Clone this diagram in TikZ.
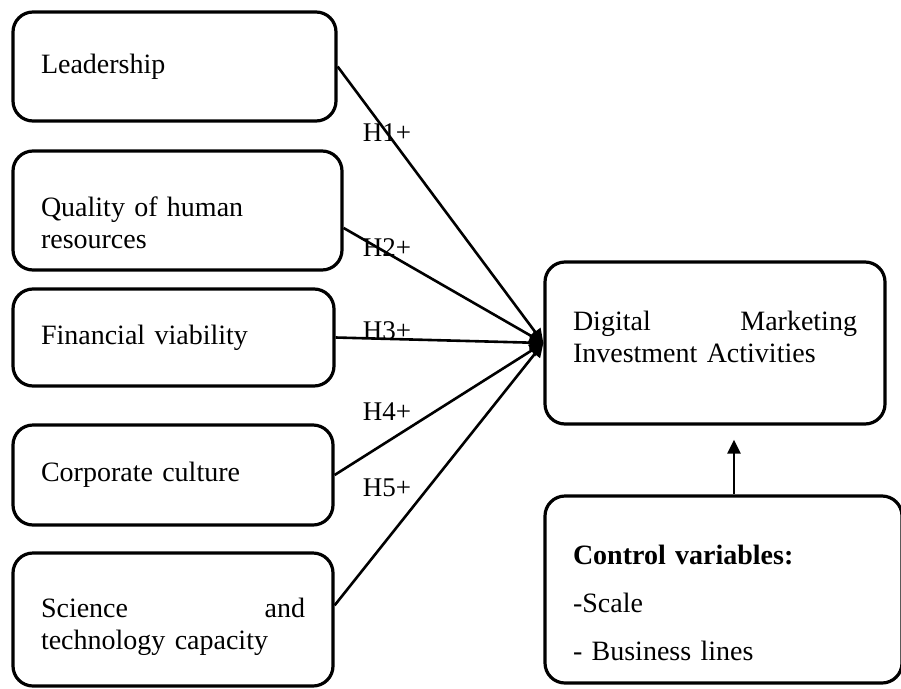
\documentclass[tikz,border=0pt]{standalone}
\usepackage{fontspec}
\setmainfont{Liberation Serif}
\usepackage{tikz}
\usetikzlibrary{calc,arrows.meta,positioning}
\tikzset{
  ar/.style={-{Triangle[length=14pt,width=13pt]},line width=2.6pt},
  box/.style={draw,line width=3.2pt,rounded corners=20pt,align=left,inner xsep=28pt,inner ysep=0pt,font=\fontsize{28}{32}\selectfont},
  hyp/.style={font=\fontsize{27}{32}\selectfont,inner sep=0pt}
}
\begin{document}
\begin{tikzpicture}[x=1pt,y=-1pt]
\useasboundingbox (0,0) rectangle (901,688);
% factors
\node[box,text width=267pt,minimum height=109pt] (lead) at (174.5,66.5) {Leadership};
\node[box,text width=273pt,minimum height=119pt,text depth=8pt] (qual) at (177.5,210.5) {Quality of human\\resources};
\node[box,text width=265pt,minimum height=97pt] (fin) at (173.5,337.5) {Financial viability};
\node[box,text width=264pt,minimum height=100pt] (corp) at (173,475) {Corporate culture};
\node[box,text width=264pt,minimum height=133pt,text depth=24pt] (sci) at (173,619.5) {Science\hfill and\\technology capacity};
% outcome and controls
\node[box,text width=284pt,minimum height=162pt,text depth=44pt] (dmi) at (715,343) {Digital\hfill Marketing\\Investment Activities};
\node[box,text width=301pt,minimum height=187pt,text depth=70pt] (ctrl) at (723.5,589.5) {\textbf{Control variables:}\\[16pt]-Scale\\[16pt]- Business lines};
% hypotheses
\foreach \src/\n/\ly in {lead.east/1/133,qual.-6/2/248,fin.east/3/331,corp.east/4/412,sci.5/5/488}{
  \draw[ar] (\src) -- (dmi.west);
  \node[hyp] (h\n) at (387,\ly) {H\n+};
}
\coordinate (tail) at ($(ctrl.north)+(10.5,0)$);
\draw[ar,shorten >=14pt] (tail) -- (tail |- dmi.south);
\end{tikzpicture}
\end{document}
